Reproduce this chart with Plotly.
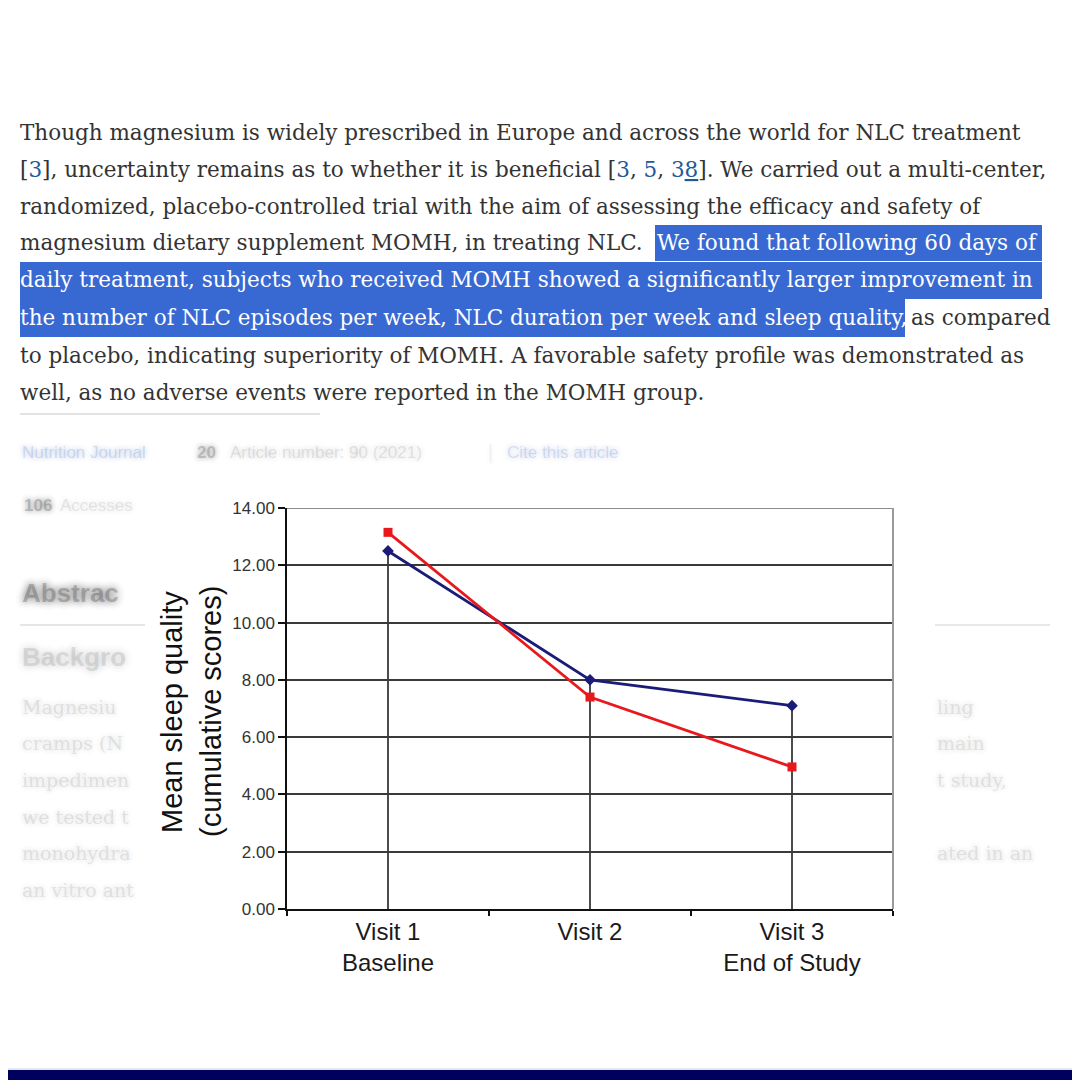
import plotly.graph_objects as go

# ---------------- data ----------------
visits = ["Visit 1<br>Baseline", "Visit 2", "Visit 3<br>End of Study"]
placebo = [12.50, 8.00, 7.10]
momh = [13.15, 7.40, 4.96]
y_ticks = [0, 2, 4, 6, 8, 10, 12, 14]

W = H = 1080
OFF = 8  # page body margin of the html page
def X(px):
    return (px - OFF) / W
def Y(py):
    return 1 - (py - OFF) / H

SERIF = "DejaVu Serif, Liberation Serif, serif"
SANS = "Liberation Sans, Arial, sans-serif"
TXT = "#333333"
LINK = "#1f5b9a"
HL = "#3868d2"

fig = go.Figure()
fig.add_trace(go.Scatter(x=visits, y=placebo, name="Placebo", mode="lines+markers",
                         line=dict(color="#1b1b78", width=2.8),
                         marker=dict(symbol="diamond", size=9, color="#1b1b78")))
fig.add_trace(go.Scatter(x=visits, y=momh, name="MOMH", mode="lines+markers",
                         line=dict(color="#e8191c", width=2.8),
                         marker=dict(symbol="square", size=9, color="#e8191c")))

shapes = []
annotations = []

# drop lines from the first series down to the axis
for v, val in zip(visits, placebo):
    shapes.append(dict(type="line", xref="x", yref="y", x0=v, x1=v, y0=0, y1=val,
                       line=dict(color="#111111", width=1.5), layer="below"))
# top and right frame (grey)
shapes.append(dict(type="line", xref="x domain", yref="y", x0=0, x1=1, y0=14, y1=14,
                   line=dict(color="#8c8c8c", width=2)))
shapes.append(dict(type="line", xref="x domain", yref="y domain", x0=1, x1=1, y0=0, y1=1,
                   line=dict(color="#9a9a9a", width=2)))

# highlight boxes behind selected text
for x0, x1, y0, y1 in [(655, 1042, 225, 261), (20, 1042, 262, 299), (20, 905, 299, 337)]:
    shapes.append(dict(type="rect", xref="paper", yref="paper", x0=X(x0), x1=X(x1),
                       y0=Y(y1), y1=Y(y0), fillcolor=HL, line=dict(width=0), layer="below"))

# faint separator lines of blurred page
for x0, x1, yy, c in [(20, 320, 414, "#e3e3e3"), (20, 145, 625, "#e6e6e6"), (935, 1050, 625, "#e8e8e8")]:
    shapes.append(dict(type="line", xref="paper", yref="paper", x0=X(x0), x1=X(x1),
                       y0=Y(yy), y1=Y(yy), line=dict(color=c, width=2)))

# bottom bar
shapes.append(dict(type="rect", xref="paper", yref="paper", x0=X(0), x1=X(1080), y0=Y(1082), y1=Y(1070),
                   fillcolor="#00005e", line=dict(width=0)))
shapes.append(dict(type="line", xref="paper", yref="paper", x0=X(0), x1=X(1080), y0=Y(1069), y1=Y(1069),
                   line=dict(color="#c8cce0", width=1)))


def text(xp, yp, s, size=21.5, color=TXT, family=SERIF, xanchor="left", **kw):
    annotations.append(dict(xref="paper", yref="paper", x=X(xp), y=Y(yp), text=s,
                            showarrow=False, xanchor=xanchor, yanchor="middle",
                            font=dict(size=size, color=color, family=family), **kw))


def link(s):
    return f'<span style="color:{LINK}">{s}</span>'

# paragraph
lines = [
    (132, 18, "Though magnesium is widely prescribed in Europe and across the world for NLC treatment", TXT),
    (169, 18, "[" + link("3") + "], uncertainty remains as to whether it is beneficial [" + link("3") + ", "
     + link("5") + ", " + link("3<u>8</u>") + "]. We carried out a multi-center,", TXT),
    (206, 18, "randomized, placebo-controlled trial with the aim of assessing the efficacy and safety of", TXT),
    (243, 18, "magnesium dietary supplement MOMH, in treating NLC.", TXT),
    (243, 655, "We found that following 60 days of", "#ffffff"),
    (280, 18, "daily treatment, subjects who received MOMH showed a significantly larger improvement in", "#ffffff"),
    (318, 18, "the number of NLC episodes per week, NLC duration per week and sleep quality,", "#ffffff"),
    (318, 909, "as compared", TXT),
    (355, 18, "to placebo, indicating superiority of MOMH. A favorable safety profile was demonstrated as", TXT),
    (392, 18, "well, as no adverse events were reported in the MOMH group.", TXT),
]
for yp, xp, s, c in lines:
    text(xp, yp, s, color=c)


# blurred background page text (blur via text shadow)
def blur(xp, yp, s, size, rgb, family=SANS, a=0.35, r=4):
    sh = (f"0px 0px {r}px rgba({rgb},{a}), 0px 0px {r + 2}px rgba({rgb},{a}), "
          f"0px 0px {r + 3}px rgba({rgb},{a * 0.6})")
    annotations.append(dict(xref="paper", yref="paper", x=X(xp), y=Y(yp), text=s,
                            showarrow=False, xanchor="left", yanchor="middle",
                            font=dict(size=size, color=f"rgba({rgb},{a * 0.3})", family=family,
                                      shadow=sh)))

blur(20, 452, "Nutrition Journal", 17, "70,110,190", a=0.7)
blur(195, 452, "<b>20</b>", 17, "60,60,60", a=0.8)
blur(228, 452, "Article number: 90 (2021)", 17, "110,110,110", a=0.6)
blur(486, 452, "|", 20, "150,150,150", a=0.4)
blur(505, 452, "Cite this article", 17, "70,110,190", a=0.65)
blur(22, 505, "<b>106</b>", 17, "60,60,60", a=0.85)
blur(58, 505, "Accesses", 17, "120,120,120", a=0.55)
blur(20, 593, "<b>Abstrac</b>", 26, "60,60,60", a=1.0, r=6)
blur(20, 657, "<b>Backgro</b>", 26, "120,120,120", a=0.7, r=6)
for yp, s in [(707, "Magnesiu"), (743, "cramps (N"), (780, "impedimen"), (817, "we tested t"),
              (853, "monohydra"), (890, "an vitro ant")]:
    blur(20, yp, s, 19, "120,120,120", family=SERIF, a=0.6, r=4)
for yp, s in [(707, "ling"), (743, "main"), (780, "t study,"), (853, "ated in an")]:
    blur(935, yp, s, 19, "120,120,120", family=SERIF, a=0.6, r=4)

# y-axis title
annotations.append(dict(xref="paper", yref="paper", x=X(172), y=Y(712), text="Mean sleep quality",
                        textangle=-90, showarrow=False, xanchor="center", yanchor="middle",
                        font=dict(size=29, color="#111111", family=SANS)))
annotations.append(dict(xref="paper", yref="paper", x=X(211), y=Y(712), text="(cumulative scores)",
                        textangle=-90, showarrow=False, xanchor="center", yanchor="middle",
                        font=dict(size=29, color="#111111", family=SANS)))

fig.update_layout(
    width=W, height=H, margin=dict(l=0, r=0, t=0, b=0, pad=0, autoexpand=False),
    paper_bgcolor="white", plot_bgcolor="white", showlegend=False,
    shapes=shapes, annotations=annotations,
    xaxis=dict(domain=[X(287), X(893)], type="category", range=[-0.5, len(visits) - 0.5],
               tickson="boundaries", automargin=False,
               ticks="outside", ticklen=5, tickcolor="#111111", tickwidth=1.5,
               showline=True, linecolor="#111111", linewidth=2, showgrid=False,
               tickfont=dict(size=24, color="#1a1a1a", family=SANS)),
    yaxis=dict(domain=[Y(909), Y(508)], range=[0, 14], tickvals=y_ticks, tickformat=".2f",
               automargin=False,
               ticks="outside", ticklen=7, tickcolor="#111111", tickwidth=1.5,
               showline=True, linecolor="#111111", linewidth=1.5,
               showgrid=True, gridcolor="#3a3a3a", gridwidth=1.6, zeroline=False,
               tickfont=dict(size=17, color="#333333", family=SANS)),
)

fig.write_html("out.html")
